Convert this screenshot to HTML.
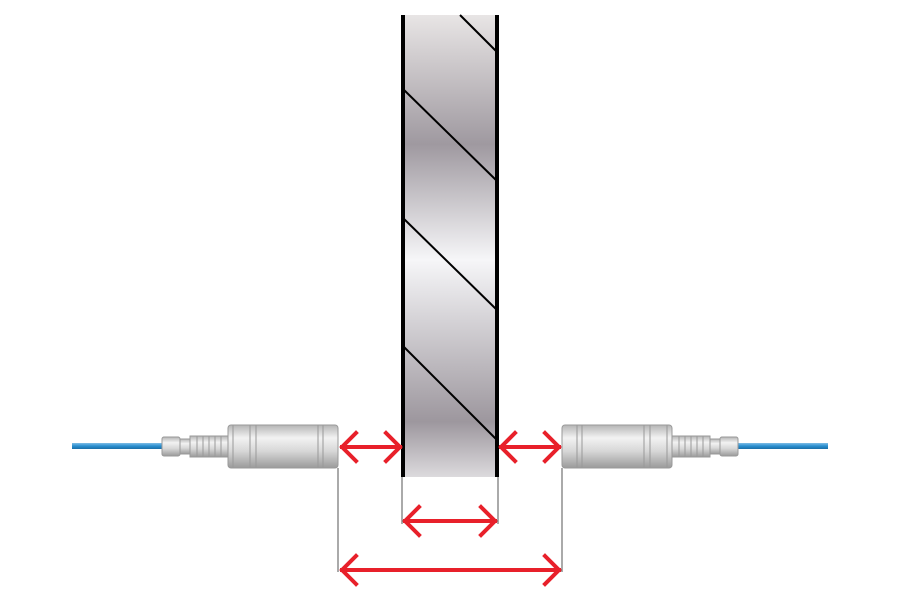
<!DOCTYPE html>
<html><head><style>body{margin:0;background:#fff}svg{display:block}</style></head><body>
<svg width="900" height="600" viewBox="0 0 900 600" xmlns="http://www.w3.org/2000/svg">
<defs>
<linearGradient id="wall" x1="0" y1="0" x2="0" y2="1">
<stop offset="0" stop-color="#e8e5e5"/><stop offset="0.28" stop-color="#9f99a0"/>
<stop offset="0.53" stop-color="#f6f6f8"/><stop offset="0.88" stop-color="#9d979e"/>
<stop offset="1" stop-color="#dcdadd"/></linearGradient>
<linearGradient id="metal" x1="0" y1="0" x2="0" y2="1">
<stop offset="0" stop-color="#b5b5b5"/><stop offset="0.3" stop-color="#f2f2f2"/>
<stop offset="0.6" stop-color="#d8d8d8"/><stop offset="1" stop-color="#9a9a9a"/></linearGradient>
<linearGradient id="cable" x1="0" y1="0" x2="0" y2="1">
<stop offset="0" stop-color="#7fbde6"/><stop offset="0.5" stop-color="#2a8fd0"/><stop offset="1" stop-color="#1b6ea8"/></linearGradient>
<g id="sensor">
<rect x="72" y="443" width="92" height="6" fill="url(#cable)"/>
<rect x="162" y="437" width="18" height="19" rx="2" fill="url(#metal)" stroke="#999"/>
<rect x="180" y="439" width="10" height="15" fill="url(#metal)" stroke="#999"/>
<rect x="190" y="436" width="38" height="21" fill="url(#metal)" stroke="#999"/>
<g stroke="#999"><line x1="197" y1="436" x2="197" y2="457"/><line x1="203" y1="436" x2="203" y2="457"/><line x1="209" y1="436" x2="209" y2="457"/><line x1="215" y1="436" x2="215" y2="457"/><line x1="221" y1="436" x2="221" y2="457"/></g>
<rect x="228" y="425" width="110" height="43" rx="3" fill="url(#metal)" stroke="#999"/>
<g stroke="#999"><line x1="233" y1="425" x2="233" y2="468"/><line x1="250" y1="425" x2="250" y2="468"/><line x1="256" y1="425" x2="256" y2="468"/><line x1="318" y1="425" x2="318" y2="468"/><line x1="323" y1="425" x2="323" y2="468"/></g>
</g>
</defs>
<rect x="402" y="15" width="96" height="462" fill="url(#wall)"/>
<g stroke="#000" stroke-width="2">
<line x1="460" y1="15" x2="497" y2="52"/><line x1="402" y1="88" x2="497" y2="181"/>
<line x1="402" y1="217" x2="497" y2="310"/><line x1="402" y1="345" x2="497" y2="440"/></g>
<g stroke="#000" stroke-width="4"><line x1="403" y1="15" x2="403" y2="477"/><line x1="497" y1="15" x2="497" y2="477"/></g>
<use href="#sensor"/>
<use href="#sensor" transform="translate(900,0) scale(-1,1)"/>
<g stroke="#555" stroke-width="1">
<line x1="338" y1="468" x2="338" y2="572"/><line x1="562" y1="468" x2="562" y2="572"/>
<line x1="402" y1="477" x2="402" y2="524"/><line x1="498" y1="477" x2="498" y2="524"/></g>
<g stroke="#e8202a" stroke-width="4" fill="none" stroke-linecap="square">
<path d="M342 447H400M356 433L342 447L356 461M386 433L400 447L386 461"/>
<path d="M501 447H559M515 433L501 447L515 461M545 433L559 447L545 461"/>
<path d="M405 521H495M419 507L405 521L419 535M481 507L495 521L481 535"/>
<path d="M342 570H559M356 556L342 570L356 584M545 556L559 570L545 584"/>
</g>
</svg>
</body></html>
